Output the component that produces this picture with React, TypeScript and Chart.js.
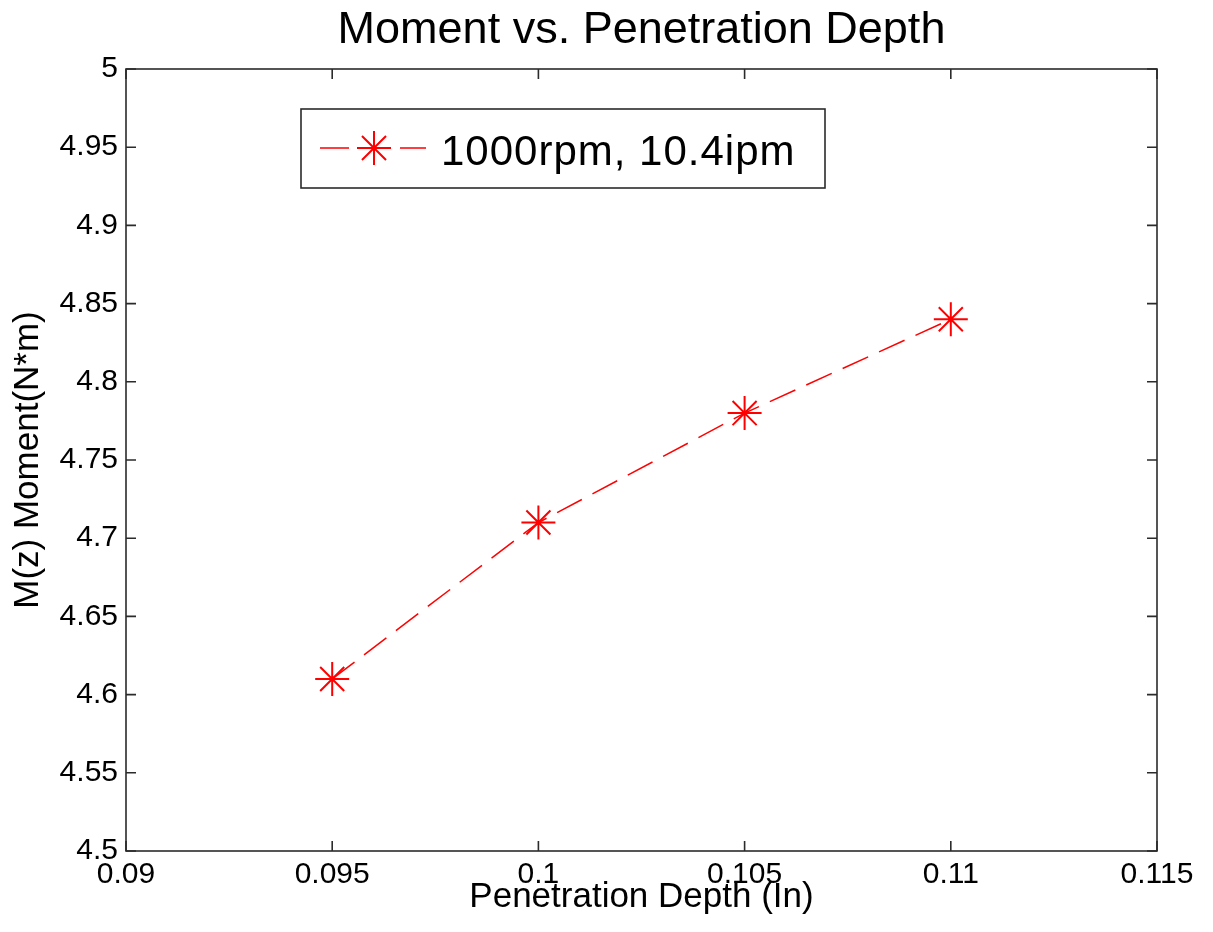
import React, { useEffect, useRef } from "react";
import { Chart, registerables } from "chart.js";

Chart.register(...registerables);

// Penetration depth (in) and measured moment M(z) (N*m)
const depthValues = [0.095, 0.1, 0.105, 0.11];
const momentValues = [4.61, 4.71, 4.78, 4.84];

const xTickValues = [0.09, 0.095, 0.1, 0.105, 0.11, 0.115];
const yTickValues = [4.5, 4.55, 4.6, 4.65, 4.7, 4.75, 4.8, 4.85, 4.9, 4.95, 5];

const seriesLabel = "1000rpm, 10.4ipm";
const chartTitle = "Moment vs. Penetration Depth";
const xAxisTitle = "Penetration Depth (In)";
const yAxisTitle = "M(z) Moment(N*m)";

const FONT = "'Liberation Sans', Arial, Helvetica, sans-serif";
const RED = "rgb(255,0,0)";
const FRAME = "#2b2b2b";

const fmt = (v: number) => String(parseFloat(Number(v).toFixed(4)));

// Box around the plot area with inward-pointing ticks on all four sides
const framePlugin = {
  id: "frameTicks",
  beforeDatasetsDraw(chart: any) {
    const { ctx, chartArea } = chart;
    const { left, right, top, bottom } = chartArea;
    const len = 10;
    ctx.save();
    ctx.strokeStyle = FRAME;
    ctx.lineWidth = 1.6;
    ctx.strokeRect(left, top, right - left, bottom - top);
    ctx.beginPath();
    const xs = chart.scales.x;
    for (const t of xs.ticks) {
      const px = xs.getPixelForValue(t.value);
      ctx.moveTo(px, bottom);
      ctx.lineTo(px, bottom - len);
      ctx.moveTo(px, top);
      ctx.lineTo(px, top + len);
    }
    const ys = chart.scales.y;
    for (const t of ys.ticks) {
      const py = ys.getPixelForValue(t.value);
      ctx.moveTo(left, py);
      ctx.lineTo(left + len, py);
      ctx.moveTo(right, py);
      ctx.lineTo(right - len, py);
    }
    ctx.stroke();
    ctx.restore();
  },
};

// Asterisk marker: horizontal, vertical and two diagonal strokes
function drawStar(ctx: CanvasRenderingContext2D, x: number, y: number, r: number) {
  const d = r * Math.cos(Math.PI / 4);
  ctx.beginPath();
  ctx.moveTo(x - r, y);
  ctx.lineTo(x + r, y);
  ctx.moveTo(x, y - r);
  ctx.lineTo(x, y + r);
  ctx.moveTo(x - d, y - d);
  ctx.lineTo(x + d, y + d);
  ctx.moveTo(x - d, y + d);
  ctx.lineTo(x + d, y - d);
  ctx.stroke();
}

// Legend box inside the upper-left part of the plot area
const legendPlugin = {
  id: "insetLegend",
  afterDraw(chart: any) {
    const { ctx, chartArea } = chart;
    const ds = chart.data.datasets[0];
    const bx = chartArea.left + 175;
    const by = chartArea.top + 40;
    const bw = 524;
    const bh = 79;
    const cy = by + 39;
    ctx.save();
    ctx.fillStyle = "#ffffff";
    ctx.fillRect(bx, by, bw, bh);
    ctx.strokeStyle = FRAME;
    ctx.lineWidth = 1.6;
    ctx.strokeRect(bx, by, bw, bh);

    // line sample with the marker in its middle
    ctx.strokeStyle = RED;
    ctx.lineWidth = 1.5;
    ctx.beginPath();
    ctx.moveTo(bx + 19, cy);
    ctx.lineTo(bx + 48, cy);
    ctx.moveTo(bx + 99, cy);
    ctx.lineTo(bx + 125, cy);
    ctx.stroke();
    ctx.lineWidth = 2;
    drawStar(ctx, bx + 73, cy, 17);

    ctx.fillStyle = "#000000";
    ctx.font = `42px ${FONT}`;
    (ctx as any).letterSpacing = "1px";
    ctx.textAlign = "left";
    ctx.textBaseline = "alphabetic";
    ctx.fillText(ds.label, bx + 140, cy + 17);
    ctx.restore();
  },
};

export default function App() {
  const canvasRef = useRef<HTMLCanvasElement | null>(null);

  useEffect(() => {
    if (!canvasRef.current) return;
    Chart.defaults.font.family = FONT;
    Chart.defaults.color = "#000000";

    const chart = new Chart(canvasRef.current, {
      type: "scatter",
      data: {
        datasets: [
          {
            label: seriesLabel,
            data: depthValues.map((x, i) => ({ x, y: momentValues[i] })),
            showLine: true,
            borderColor: RED,
            borderWidth: 1.5,
            borderDash: [28, 12],
            pointStyle: "star",
            pointRadius: 17,
            pointHoverRadius: 17,
            pointBorderWidth: 2,
            pointBorderColor: RED,
            pointBackgroundColor: RED,
          },
        ],
      },
      plugins: [framePlugin, legendPlugin],
      options: {
        responsive: false,
        animation: false,
        events: [],
        layout: { padding: { left: 0, right: 56, top: 0, bottom: 0 } },
        plugins: {
          legend: { display: false },
          tooltip: { enabled: false },
          title: {
            display: true,
            fullSize: false,
            text: chartTitle,
            color: "#000000",
            font: { size: 45, weight: "normal", family: FONT, lineHeight: 1.2 },
            padding: { top: 4, bottom: 11 },
          },
        },
        scales: {
          x: {
            type: "linear",
            min: 0.09,
            max: 0.115,
            afterBuildTicks: (s: any) => {
              s.ticks = xTickValues.map((v) => ({ value: v }));
            },
            afterFit: (s: any) => {
              s.height = 81;
              s.paddingLeft = 0;
              s.paddingRight = 0;
            },
            grid: { display: false, drawTicks: false },
            border: { display: false },
            ticks: {
              autoSkip: false,
              maxRotation: 0,
              padding: 6,
              color: "#000000",
              font: { size: 30, family: FONT },
              callback: (v: any) => fmt(v),
            },
            title: {
              display: true,
              text: xAxisTitle,
              color: "#000000",
              font: { size: 35, family: FONT, lineHeight: 1.2 },
              padding: 14,
            },
          },
          y: {
            type: "linear",
            min: 4.5,
            max: 5,
            afterBuildTicks: (s: any) => {
              s.ticks = yTickValues.map((v) => ({ value: v }));
            },
            afterFit: (s: any) => {
              s.width = 126;
              s.paddingTop = 0;
              s.paddingBottom = 0;
            },
            grid: { display: false, drawTicks: false },
            border: { display: false },
            ticks: {
              autoSkip: false,
              padding: 8,
              color: "#000000",
              font: { size: 30, family: FONT },
              callback: (v: any) => fmt(v),
            },
            title: {
              display: true,
              text: yAxisTitle,
              color: "#000000",
              font: { size: 35, family: FONT, lineHeight: 1.2 },
              padding: 7,
            },
          },
        },
      },
    } as any);

    return () => chart.destroy();
  }, []);

  return (
    <div style={{ position: "absolute", left: 0, top: 0, width: 1213, height: 932, background: "#ffffff" }}>
      <canvas ref={canvasRef} width={1213} height={932} style={{ display: "block" }} />
    </div>
  );
}
